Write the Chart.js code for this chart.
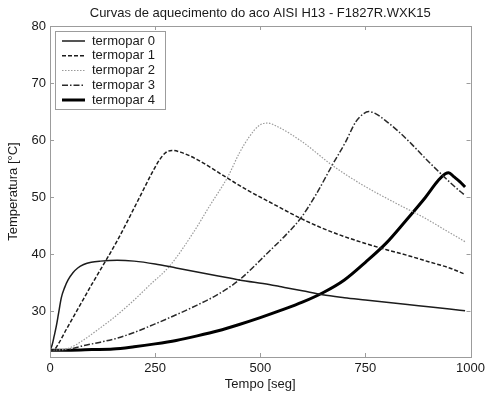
<!DOCTYPE html>
<html><head><meta charset="utf-8">
<script src="https://cdn.jsdelivr.net/npm/chart.js@4"></script>
<style>html,body{margin:0;padding:0;background:#fff}#wrap{width:489px;height:394px;position:relative}</style>
</head><body><div id="wrap"><canvas id="c" width="489" height="394"></canvas></div>
<script>
const chartTitle = 'Curvas de aquecimento do aco AISI H13 - F1827R.WXK15';
const xTitle = 'Tempo [seg]';
const yTitle = 'Temperatura [°C]';
const seriesNames = ['termopar 0', 'termopar 1', 'termopar 2', 'termopar 3', 'termopar 4'];
const xTicks = [0, 250, 500, 750, 1000];
const yTicks = [30, 40, 50, 60, 70, 80];

// termopar 0
const t0 = [0, 5, 10, 15, 20, 27, 35, 43, 55, 66, 80, 98, 120, 160, 200, 250, 300, 350, 400, 450, 521, 550, 600, 648, 700, 750, 800, 850, 900, 950, 987];
const v0 = [23.2, 24.1, 25.7, 27.4, 29.5, 32.4, 34.2, 35.5, 36.8, 37.6, 38.2, 38.6, 38.8, 38.95, 38.8, 38.3, 37.6, 36.9, 36.2, 35.5, 34.7, 34.3, 33.6, 32.9, 32.4, 32.0, 31.6, 31.2, 30.8, 30.4, 30.1];
// termopar 1
const t1 = [0, 10, 20, 40, 60, 80, 100, 120, 140, 160, 180, 200, 220, 240, 260, 275, 290, 310, 350, 423, 470, 521, 596, 650, 700, 750, 800, 850, 900, 950, 987];
const v1 = [23.2, 23.3, 24.3, 27.0, 29.6, 32.2, 34.8, 37.3, 39.8, 42.4, 45.2, 48.1, 51.0, 53.9, 56.5, 57.8, 58.2, 57.9, 56.6, 53.3, 51.2, 49.2, 46.3, 44.5, 43.1, 41.9, 40.8, 39.8, 38.7, 37.6, 36.5];
// termopar 2
const t2 = [0, 30, 50, 80, 114, 150, 193, 237, 284, 340, 379, 423, 450, 474, 498, 517, 540, 600, 671, 742, 829, 885, 950, 987];
const v2 = [23.2, 23.3, 23.7, 25.0, 26.8, 28.8, 31.5, 34.6, 37.9, 43.7, 48.4, 53.6, 57.7, 60.6, 62.6, 63.0, 62.4, 59.7, 55.6, 52.2, 48.7, 46.6, 43.8, 42.2];
// termopar 3
const t3 = [0, 40, 80, 120, 160, 200, 250, 300, 350, 400, 450, 521, 561, 596, 632, 671, 703, 727, 745, 758, 775, 800, 829, 860, 890, 924, 960, 987];
const v3 = [23.2, 23.3, 24.0, 24.6, 25.3, 26.3, 27.8, 29.4, 31.1, 33.0, 35.5, 40.5, 43.4, 46.3, 50.4, 55.6, 59.7, 63.2, 64.6, 65.0, 64.6, 63.3, 61.5, 59.3, 57.0, 54.5, 52.0, 50.3];
// termopar 4
const t4 = [0, 50, 100, 150, 200, 250, 300, 350, 400, 450, 500, 550, 600, 650, 700, 750, 800, 845, 893, 924, 940, 948, 960, 975, 987];
const v4 = [23.2, 23.2, 23.3, 23.4, 23.8, 24.3, 24.9, 25.7, 26.6, 27.7, 28.9, 30.2, 31.6, 33.3, 35.5, 38.6, 42.0, 45.8, 50.0, 53.0, 54.1, 54.3, 53.6, 52.7, 51.8];

const times = [t0, t1, t2, t3, t4];
const values = [v0, v1, v2, v3, v4];
const styles = [
  {color: '#1c1c1c', width: 1.5, dash: []},
  {color: '#1c1c1c', width: 1.5, dash: [4, 2]},
  {color: '#9a9a9a', width: 1.2, dash: [1.5, 1.5]},
  {color: '#2a2a2a', width: 1.5, dash: [6, 2, 1.5, 2]},
  {color: '#000000', width: 3, dash: []}
];

const datasets = seriesNames.map((name, i) => ({
  label: name,
  data: times[i].map((t, j) => ({x: t, y: values[i][j]})),
  borderColor: styles[i].color,
  borderWidth: styles[i].width,
  borderDash: styles[i].dash,
  pointRadius: 0,
  fill: false,
  cubicInterpolationMode: 'monotone'
}));

const FONT = "'Liberation Sans', Arial, sans-serif";

const boxPlugin = {
  id: 'boxTicks',
  afterDatasetsDraw(chart) {
    const {ctx, chartArea: a, scales: {x, y}} = chart;
    ctx.save();
    // title centred over the plot box
    ctx.fillStyle = '#1a1a1a';
    ctx.font = '13px ' + FONT;
    ctx.textAlign = 'center';
    ctx.textBaseline = 'middle';
    ctx.fillText(chartTitle, (a.left + a.right) / 2, 13);

    ctx.strokeStyle = '#9c9c9c';
    ctx.lineWidth = 1;
    ctx.setLineDash([]);
    ctx.strokeRect(Math.round(a.left) + 0.5, Math.round(a.top) + 0.5, Math.round(a.right - a.left), Math.round(a.bottom - a.top));
    ctx.beginPath();
    xTicks.forEach(v => {
      const px = Math.round(x.getPixelForValue(v)) + 0.5;
      ctx.moveTo(px, a.bottom); ctx.lineTo(px, a.bottom - 4);
      ctx.moveTo(px, a.top); ctx.lineTo(px, a.top + 4);
    });
    yTicks.forEach(v => {
      const py = Math.round(y.getPixelForValue(v)) + 0.5;
      ctx.moveTo(a.left, py); ctx.lineTo(a.left + 4, py);
      ctx.moveTo(a.right, py); ctx.lineTo(a.right - 4, py);
    });
    ctx.stroke();

    // legend
    const lx = a.left + 5, ly = a.top + 5, lw = 110, lh = 78;
    ctx.fillStyle = '#ffffff';
    ctx.fillRect(lx, ly, lw, lh);
    ctx.strokeStyle = '#9c9c9c';
    ctx.strokeRect(Math.round(lx) + 0.5, Math.round(ly) + 0.5, lw, lh);
    ctx.textAlign = 'left';
    chart.data.datasets.forEach((ds, i) => {
      const yy = ly + 10 + i * 14.75;
      ctx.strokeStyle = ds.borderColor;
      ctx.lineWidth = ds.borderWidth;
      ctx.setLineDash(ds.borderDash);
      ctx.beginPath();
      ctx.moveTo(lx + 7, yy); ctx.lineTo(lx + 30, yy);
      ctx.stroke();
      ctx.setLineDash([]);
      ctx.fillStyle = '#1a1a1a';
      ctx.fillText(ds.label, lx + 37, yy);
    });
    ctx.restore();
  }
};

new Chart(document.getElementById('c'), {
  type: 'line',
  data: {datasets},
  plugins: [boxPlugin],
  options: {
    responsive: false,
    animation: false,
    layout: {padding: {left: 0, right: 17, top: 26, bottom: 0}},
    plugins: {
      legend: {display: false},
      tooltip: {enabled: false},
      title: {display: false}
    },
    scales: {
      x: {
        type: 'linear', min: 0, max: 1000,
        afterBuildTicks(s) { s.ticks = xTicks.map(v => ({value: v})); },
        afterFit(s) { s.height = 37; },
        grid: {display: false, drawTicks: false},
        border: {display: false},
        ticks: {color: '#1a1a1a', font: {family: FONT, size: 13}, padding: 4, maxRotation: 0, callback: v => String(v)},
        title: {display: true, text: xTitle, color: '#1a1a1a', font: {family: FONT, size: 13}, padding: {top: 0, bottom: 2}}
      },
      y: {
        type: 'linear', min: 22, max: 80,
        afterBuildTicks(s) { s.ticks = yTicks.map(v => ({value: v})); },
        afterFit(s) { s.width = 50; },
        grid: {display: false, drawTicks: false},
        border: {display: false},
        ticks: {color: '#1a1a1a', font: {family: FONT, size: 13}, padding: 4, callback: v => String(v)},
        title: {display: true, text: yTitle, color: '#1a1a1a', font: {family: FONT, size: 13}, padding: {top: 6, bottom: 0}}
      }
    }
  }
});
</script></body></html>
